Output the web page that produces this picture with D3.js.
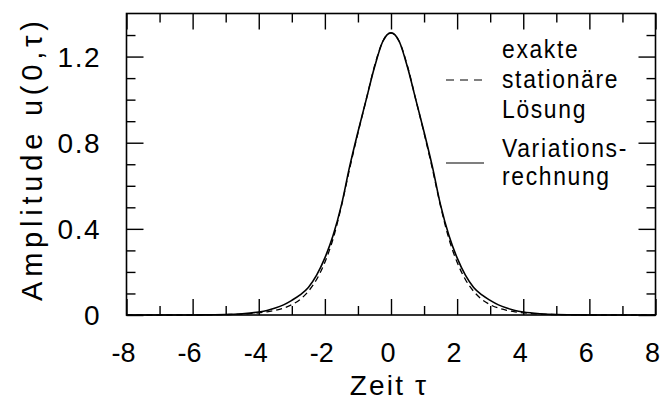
<!DOCTYPE html>
<html>
<head>
<meta charset="utf-8">
<script src="https://cdn.jsdelivr.net/npm/d3@7"></script>
<style>
  html, body { margin: 0; padding: 0; background: #fff; }
  svg { display: block; }
  text { font-family: "Liberation Sans", Arial, Helvetica, sans-serif; fill: #000; }
</style>
</head>
<body>
<svg id="chart" width="660" height="403"></svg>
<script>
// Pulse amplitude u(0,τ) over time τ: exact stationary solution vs. variational result
const tau = [-8, -7, -6, -5.5, -5, -4.5, -4, -3.75, -3.5, -3.25, -3, -2.75, -2.5, -2.25, -2, -1.75, -1.5, -1.25, -1, -0.75, -0.5, -0.25,
             0, 0.25, 0.5, 0.75, 1, 1.25, 1.5, 1.75, 2, 2.25, 2.5, 2.75, 3, 3.25, 3.5, 3.75, 4, 4.5, 5, 5.5, 6, 7, 8];

const exactValues = [0, 0, 0, 0.001, 0.002, 0.004, 0.010, 0.015, 0.022, 0.032, 0.048, 0.072, 0.110, 0.165, 0.245, 0.355, 0.505, 0.680, 0.845, 1.000, 1.155, 1.270,
                     1.310, 1.270, 1.155, 1.000, 0.845, 0.680, 0.505, 0.355, 0.245, 0.165, 0.110, 0.072, 0.048, 0.032, 0.022, 0.015, 0.010, 0.004, 0.002, 0.001, 0, 0, 0];

const variationalValues = [0, 0, 0, 0.001, 0.002, 0.006, 0.014, 0.021, 0.032, 0.047, 0.068, 0.093, 0.128, 0.185, 0.265, 0.370, 0.510, 0.690, 0.850, 1.000, 1.150, 1.270,
                           1.310, 1.270, 1.150, 1.000, 0.850, 0.690, 0.510, 0.370, 0.265, 0.185, 0.128, 0.093, 0.068, 0.047, 0.032, 0.021, 0.014, 0.006, 0.002, 0.001, 0, 0, 0];

const xMajorTicks = [-8, -6, -4, -2, 0, 2, 4, 6, 8];
const xMinorTicks = [-7, -5, -3, -1, 1, 3, 5, 7];
const yMajorTicks = [0, 0.4, 0.8, 1.2];
const yMinorTicks = [0.1, 0.2, 0.3, 0.5, 0.6, 0.7, 0.9, 1.0, 1.1, 1.3];
const xTickLabels = ["-8", "-6", "-4", "-2", "0", "2", "4", "6", "8"];
const yTickLabels = ["0", "0.4", "0.8", "1.2"];

const legendExact = ["exakte", "stationäre", "Lösung"];
const legendVariational = ["Variations-", "rechnung"];

const svg = d3.select("#chart");
const plot = { left: 126.5, right: 655.5, top: 13.5, bottom: 315 };

const x = d3.scaleLinear().domain([-8, 8]).range([plot.left, plot.right]);
const y = d3.scaleLinear().domain([0, 1.4]).range([plot.bottom, plot.top]);

const majorLen = 16, minorLen = 9;

function styleAxis(g) {
  g.select(".domain").remove();
  g.selectAll(".tick line").attr("stroke", "#000").attr("stroke-width", 1.4);
  g.selectAll(".tick text").remove();
}

// inward ticks on all four sides
const axes = [
  [d3.axisBottom(x).tickValues(xMajorTicks).tickSize(-majorLen), `translate(0,${plot.bottom})`],
  [d3.axisBottom(x).tickValues(xMinorTicks).tickSize(-minorLen), `translate(0,${plot.bottom})`],
  [d3.axisTop(x).tickValues(xMajorTicks).tickSize(-majorLen), `translate(0,${plot.top})`],
  [d3.axisTop(x).tickValues(xMinorTicks).tickSize(-minorLen), `translate(0,${plot.top})`],
  [d3.axisLeft(y).tickValues(yMajorTicks).tickSize(-17), `translate(${plot.left},0)`],
  [d3.axisLeft(y).tickValues(yMinorTicks).tickSize(-minorLen), `translate(${plot.left},0)`],
  [d3.axisRight(y).tickValues(yMajorTicks).tickSize(-17), `translate(${plot.right},0)`],
  [d3.axisRight(y).tickValues(yMinorTicks).tickSize(-minorLen), `translate(${plot.right},0)`]
];
axes.forEach(([axis, tr]) => svg.append("g").attr("transform", tr).call(axis).call(styleAxis));

// tick labels
svg.append("g").selectAll("text").data(xMajorTicks).join("text")
  .attr("x", d => x(d) - 3).attr("y", 362)
  .attr("text-anchor", "middle").attr("font-size", 27)
  .text((d, i) => xTickLabels[i]);

svg.append("g").selectAll("text").data(yMajorTicks).join("text")
  .attr("x", 101).attr("y", d => y(d) + 10)
  .attr("text-anchor", "end").attr("font-size", 28).attr("letter-spacing", 1.5)
  .text((d, i) => yTickLabels[i]);

// frame
svg.append("rect")
  .attr("x", plot.left).attr("y", plot.top)
  .attr("width", plot.right - plot.left).attr("height", plot.bottom - plot.top)
  .attr("fill", "none").attr("stroke", "#000").attr("stroke-width", 1.6);

// curves
const line = d3.line().x((d, i) => x(tau[i])).y(d => y(d)).curve(d3.curveMonotoneX);

svg.append("path").datum(exactValues)
  .attr("d", line).attr("fill", "none").attr("stroke", "#000")
  .attr("stroke-width", 1.3).attr("stroke-dasharray", "6,4");

svg.append("path").datum(variationalValues)
  .attr("d", line).attr("fill", "none").attr("stroke", "#000")
  .attr("stroke-width", 1.6);

// legend (slightly condensed, tracked lettering)
const lg = svg.append("g");
function legendText(tx, ty, t) {
  lg.append("text")
    .attr("transform", `translate(${tx},${ty}) scale(0.88,1)`)
    .attr("font-size", 26).attr("letter-spacing", 1.9).text(t);
}
lg.append("line").attr("x1", 446).attr("x2", 484).attr("y1", 80).attr("y2", 80)
  .attr("stroke", "#000").attr("stroke-width", 1.2).attr("stroke-dasharray", "8,6");
legendExact.forEach((t, i) => legendText(502, 58 + i * 30, t));
lg.append("line").attr("x1", 446).attr("x2", 484).attr("y1", 163).attr("y2", 163)
  .attr("stroke", "#000").attr("stroke-width", 1.2);
legendVariational.forEach((t, i) => legendText(502, 157 + i * 28, t));

// axis titles
svg.append("text").attr("x", x(0) - 2).attr("y", 395).attr("text-anchor", "middle")
  .attr("font-size", 28).attr("letter-spacing", 2.2).text("Zeit τ");
svg.append("text").attr("transform", "translate(42,161) rotate(-90)").attr("text-anchor", "middle")
  .attr("font-size", 29).attr("textLength", 280).attr("lengthAdjust", "spacing")
  .text("Amplitude u(0,τ)");
</script>
</body>
</html>
